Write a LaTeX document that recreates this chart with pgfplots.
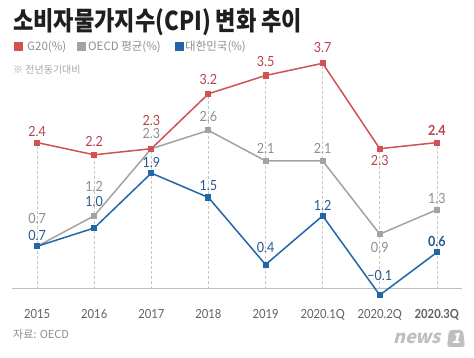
\documentclass[border=0pt]{standalone}
\usepackage{pgfplots}
\pgfplotsset{compat=1.18}
\usepackage{pgfplotstable}
\usepackage{fontspec}
\setmainfont{Noto Sans CJK KR}
\newfontfamily\titlefont[FakeStretch=0.85]{Noto Sans CJK KR}
\newfontfamily\numfont[FakeStretch=0.9]{Lato}
\newfontfamily\logofont[FakeSlant=0.25]{Noto Sans CJK KR}

\definecolor{cred}{HTML}{D05252}
\definecolor{cgray}{HTML}{A3A3A3}
\definecolor{cblue}{HTML}{2167A8}
\definecolor{tred}{HTML}{B8434A}
\definecolor{tgray}{HTML}{8E8E8E}
\definecolor{tblue}{HTML}{2A5A8C}

\pgfplotstableread{
x y lab dy w
0 2.4 2.4 11.6 0
1 2.2 2.2 13.8 0
2 2.3 2.3 28.7 0
3 3.2 3.2 14.8 0
4 3.5 3.5 14.5 0
5 3.7 3.7 16.3 0
6 2.3 2.3 -11.3 0
7 2.4 2.4 12.6 1
}\gtwenty
\pgfplotstableread{
x y lab dy w
0 0.7 0.7 28.3 0
1 1.2 1.2 29.8 0
2 2.3 2.3 15.7 0
3 2.6 2.6 14.4 0
4 2.1 2.1 12.9 0
5 2.1 2.1 12.9 0
6 0.9 0.9 -12.9 0
7 1.3 1.3 11.7 0
}\oecd
\pgfplotstableread{
x y lab dy w
0 0.7 0.7 11.3 0
1 1.0 1.0 27.0 0
2 1.9 1.9 11.0 0
3 1.5 1.5 11.5 0
4 0.4 0.4 17.6 0
5 1.2 1.2 10.8 0
6 -0.1 −0.1 20.1 0
7 0.6 0.6 11.0 1
}\korea

\pgfplotsset{
  labelled/.style={
    point meta=explicit symbolic,
    nodes near coords={\ifdim\wt pt>0.5pt\bfseries\fi\pgfplotspointmeta},
    visualization depends on={\thisrow{dy} \as \dyy},
    visualization depends on={\thisrow{w} \as \wt},
    nodes near coords style={anchor=center, inner sep=0pt, yshift=\dyy pt, font=\numfont\fontsize{14}{16}\selectfont, text=#1},
  },
}

\begin{document}
\begin{tikzpicture}
\path[fill=white] (0,0) rectangle (474pt,358pt);
% title
\node[anchor=west, inner sep=0pt, text=black!88] at (13pt,336pt)
  {\titlefont\bfseries\fontsize{26}{30}\selectfont 소비자물가지수(CPI) 변화 추이};
% legend
\fill[cred] (14pt,307pt) rectangle (22.5pt,315.5pt);
\node[anchor=west, inner sep=0pt, text=tgray] at (27pt,311pt) {\fontsize{11.5}{13}\selectfont G20(\%)};
\fill[cgray] (77pt,307pt) rectangle (85.5pt,315.5pt);
\node[anchor=west, inner sep=0pt, text=tgray] at (88pt,311pt) {\fontsize{11.5}{13}\selectfont OECD 평균(\%)};
\fill[cblue] (175pt,307pt) rectangle (183.5pt,315.5pt);
\node[anchor=west, inner sep=0pt, text=tgray] at (185pt,311pt) {\fontsize{11.5}{13}\selectfont 대한민국(\%)};
\node[anchor=west, inner sep=0pt, text=black!35] at (13pt,288pt) {\fontsize{10}{12}\selectfont ※ 전년동기대비};
% source
\node[anchor=west, inner sep=0pt, text=black!45] at (13pt,24pt) {\fontsize{11}{13}\selectfont 자료: OECD};
% logo
\node[anchor=base west, inner sep=0pt, text=black!25] at (393pt,14pt) {\logofont\bfseries\fontsize{18}{20}\selectfont news};
\fill[black!25, rounded corners=3pt] (447pt,11pt) -- (465pt,11pt) -- (463pt,28pt) -- (449pt,28pt) -- cycle;
\node[text=white, inner sep=0pt] at (456pt,19.5pt) {\logofont\bfseries\fontsize{14}{16}\selectfont 1};

\begin{axis}[
  at={(12pt,50.7pt)}, anchor=south west,
  scale only axis, width=450pt, height=262.3pt,
  xmin=-0.44, xmax=7.44, ymin=-0.3, ymax=4.0,
  axis line style={draw=none},
  major tick length=0pt,
  ytick=\empty,
  xtick={0,...,7},
  xticklabels={2015,2016,2017,2018,2019,2020.1Q,2020.2Q,\textbf{2020.3Q}},
  xticklabel style={anchor=north, inner sep=0pt, yshift=-1.5pt, text=black!62, font=\numfont\fontsize{12.5}{14}\selectfont},
  clip=false,
]
\addplot[ycomb, no marks, black!22, densely dashed, line width=0.6pt] coordinates {
(0,2.4) (1,2.2) (2,2.3) (3,3.2) (4,3.5) (5,3.7) (6,2.3) (7,2.4)};
\draw[black!25, line width=1pt] (axis cs:-0.44,0) -- (axis cs:7.44,0);
\addplot[cgray, line width=1.5pt, mark=square*, mark size=2.3pt, mark options={fill=cgray, draw=cgray, solid}, labelled=tgray]
  table[x=x, y=y, meta=lab] {\oecd};
\addplot[cred, line width=1.5pt, mark=square*, mark size=2.3pt, mark options={fill=cred, draw=cred, solid}, labelled=tred]
  table[x=x, y=y, meta=lab] {\gtwenty};
\addplot[cblue, line width=1.5pt, mark=square*, mark size=2.3pt, mark options={fill=cblue, draw=cblue, solid}, labelled=tblue]
  table[x=x, y=y, meta=lab] {\korea};
\end{axis}
\end{tikzpicture}
\end{document}
